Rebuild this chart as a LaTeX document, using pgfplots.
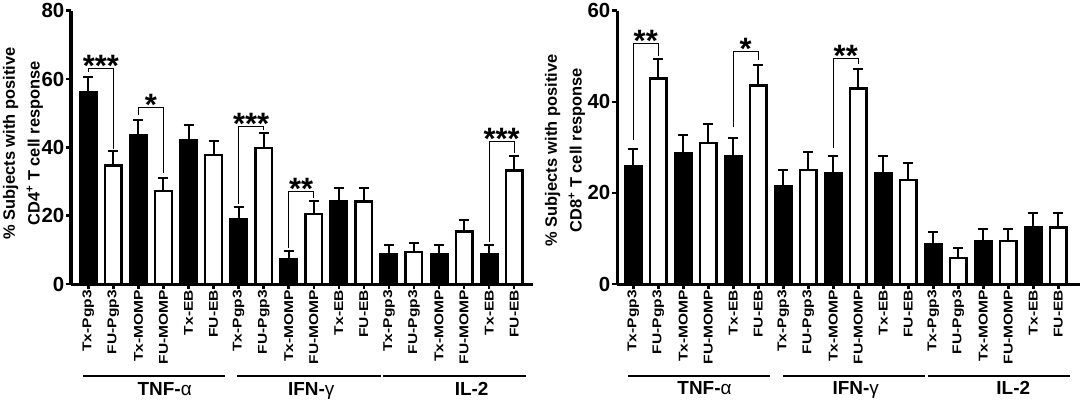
\documentclass[border=0pt]{standalone}
\usepackage{fontspec}
\setmainfont{Liberation Sans}
\usepackage{pgfplots}
\usepackage{pgfplotstable}
\pgfplotsset{compat=1.18}

\newcommand\catlab[1]{\scalebox{1}[0.82]{\bfseries\fontsize{15.6}{15.6}\selectfont #1}}

\pgfplotstableread{
x y e
0 56.0 4.5
2 43.5 4.5
4 42.1 4.3
6 19.1 3.3
8 7.2 2.5
10 24.2 3.9
12 8.6 2.7
14 8.6 2.7
16 8.6 2.7
}\cdfourTx
\pgfplotstableread{
x y e
1 34.7 4.1
3 27.2 3.9
5 37.7 4.2
7 39.8 4.3
9 20.5 3.7
11 24.2 3.9
13 9.4 2.7
15 15.4 3.3
17 33.2 4.3
}\cdfourFU
\pgfplotstableread{
x y e
0 25.9 3.8
2 28.8 4.0
4 28.1 3.9
6 21.4 3.6
8 24.3 3.9
10 24.3 3.9
12 8.8 2.6
14 9.5 2.6
16 12.4 3.1
}\cdeightTx
\pgfplotstableread{
x y e
1 45.1 4.4
3 31.0 4.1
5 43.6 4.4
7 25.0 4.0
9 42.9 4.4
11 22.8 3.8
13 5.7 2.2
15 9.5 2.6
17 12.4 3.1
}\cdeightFU

\tikzset{
  stars/.style={anchor=base, font=\bfseries\fontsize{31}{31}\selectfont},
  grp/.style={anchor=base, font=\bfseries\fontsize{19}{19}\selectfont},
}

\pgfplotsset{
  panel/.style={
    scale only axis, height=273.3bp,
    axis x line*=bottom, axis y line*=left,
    axis line style={line width=3bp, -},
    ymin=0, clip=false,
    bar width=16.6bp,
    xtick={0,...,17},
    xticklabels={\catlab{Tx-Pgp3},\catlab{FU-Pgp3},\catlab{Tx-MOMP},\catlab{FU-MOMP},\catlab{Tx-EB},\catlab{FU-EB},
                 \catlab{Tx-Pgp3},\catlab{FU-Pgp3},\catlab{Tx-MOMP},\catlab{FU-MOMP},\catlab{Tx-EB},\catlab{FU-EB},
                 \catlab{Tx-Pgp3},\catlab{FU-Pgp3},\catlab{Tx-MOMP},\catlab{FU-MOMP},\catlab{Tx-EB},\catlab{FU-EB}},
    tick align=outside, major tick length=5bp,
    every tick/.style={line width=2.5bp, black},
    x tick label style={rotate=90, anchor=east, inner sep=1bp},
    yticklabel style={inner sep=1.5bp, font=\bfseries\fontsize{20.5}{20.5}\selectfont},
    /pgf/number format/assume math mode=true,
    ylabel style={font=\bfseries\fontsize{16.5}{25}\selectfont, align=center, anchor=center},
  },
  txbar/.style={ybar, bar shift=0pt, fill=black, draw=black, line width=2.4bp,
    error bars/.cd, y dir=plus, y explicit,
    error bar style={line width=2bp, black},
    error mark options={rotate=90, line width=2bp, mark size=5bp, black}},
  fubar/.style={ybar, bar shift=0pt, fill=white, draw=black, line width=2.4bp,
    error bars/.cd, y dir=plus, y explicit,
    error bar style={line width=2bp, black},
    error mark options={rotate=90, line width=2bp, mark size=5bp, black}},
  brk/.style={line width=1bp, black, sharp plot, mark=none, forget plot},
}

\begin{document}
\begin{tikzpicture}
\path[use as bounding box] (0,0) rectangle (1084bp,-405bp);

% ---------- left panel: CD4 ----------
\begin{axis}[panel, at={(71bp,-284bp)}, anchor=south west,
  width=462bp, xmin=-0.69, xmax=17.75, ymax=80, ytick={0,20,40,60,80},
  ylabel={\% Subjects with positive\\CD4\textsuperscript{+} T cell response},
  ylabel style={at={([xshift=-48bp,yshift=4bp]axis description cs:0,0.5)}}]
\addplot[txbar] table[x=x, y=y, y error=e] {\cdfourTx};
\addplot[fubar] table[x=x, y=y, y error=e] {\cdfourFU};
\addplot[brk] coordinates {(0,62.0) (0,63.1) (1,63.1) (1,39.6)};
\addplot[brk] coordinates {(2,49.5) (2,51.6) (3,51.6) (3,32.5)};
\addplot[brk] coordinates {(6,23.5) (6,46.0) (7,46.0) (7,45.0)};
\addplot[brk] coordinates {(8,10.5) (8,27.2) (9,27.2) (9,25.3)};
\addplot[brk] coordinates {(16,12.2) (16,41.8) (17,41.8) (17,38.4)};
\node[stars] at ([yshift=-8bp]axis cs:0.5,63.1) {***};
\node[stars] at ([yshift=-8bp]axis cs:2.5,51.6) {*};
\node[stars] at ([yshift=-8bp]axis cs:6.5,46.0) {***};
\node[stars] at ([yshift=-8bp]axis cs:8.5,27.2) {**};
\node[stars] at ([yshift=-8bp]axis cs:16.5,41.8) {***};
\draw[line width=2bp] ([yshift=-92bp]axis cs:-0.2,0) -- ([yshift=-92bp]axis cs:5.47,0);
\draw[line width=2bp] ([yshift=-92bp]axis cs:5.94,0) -- ([yshift=-92bp]axis cs:11.67,0);
\draw[line width=2bp] ([yshift=-92bp]axis cs:11.78,0) -- ([yshift=-92bp]axis cs:17.47,0);
\node[grp] at ([yshift=-111bp]axis cs:3.05,0) {TNF-{\mdseries α}};
\node[grp] at ([yshift=-111bp]axis cs:8.9,0) {IFN-{\mdseries γ}};
\node[grp] at ([yshift=-111bp]axis cs:15.3,0) {IL-2};
\end{axis}

% ---------- right panel: CD8 ----------
\begin{axis}[panel, at={(617bp,-284bp)}, anchor=south west,
  width=463bp, xmin=-0.65, xmax=17.87, ymax=60, ytick={0,20,40,60},
  ylabel={\% Subjects with positive\\CD8\textsuperscript{+} T cell response},
  ylabel style={at={([xshift=-52bp,yshift=-3bp]axis description cs:0,0.5)}}]
\addplot[txbar] table[x=x, y=y, y error=e] {\cdeightTx};
\addplot[fubar] table[x=x, y=y, y error=e] {\cdeightFU};
\addplot[brk] coordinates {(0,31.6) (0,52.8) (1,52.8) (1,50.0)};
\addplot[brk] coordinates {(4,34.4) (4,51.1) (5,51.1) (5,49.2)};
\addplot[brk] coordinates {(8,29.9) (8,49.5) (9,49.5) (9,48.4)};
\node[stars] at ([yshift=-8bp]axis cs:0.5,52.8) {**};
\node[stars] at ([yshift=-8bp]axis cs:4.5,51.1) {*};
\node[stars] at ([yshift=-8bp]axis cs:8.5,49.5) {**};
\draw[line width=2bp] ([yshift=-92bp]axis cs:-0.2,0) -- ([yshift=-92bp]axis cs:5.47,0);
\draw[line width=2bp] ([yshift=-92bp]axis cs:5.98,0) -- ([yshift=-92bp]axis cs:11.67,0);
\draw[line width=2bp] ([yshift=-92bp]axis cs:11.78,0) -- ([yshift=-92bp]axis cs:17.47,0);
\node[grp] at ([yshift=-110bp]axis cs:2.85,0) {TNF-{\mdseries α}};
\node[grp] at ([yshift=-110bp]axis cs:8.9,0) {IFN-{\mdseries γ}};
\node[grp] at ([yshift=-110bp]axis cs:15.2,0) {IL-2};
\end{axis}
\end{tikzpicture}
\end{document}
